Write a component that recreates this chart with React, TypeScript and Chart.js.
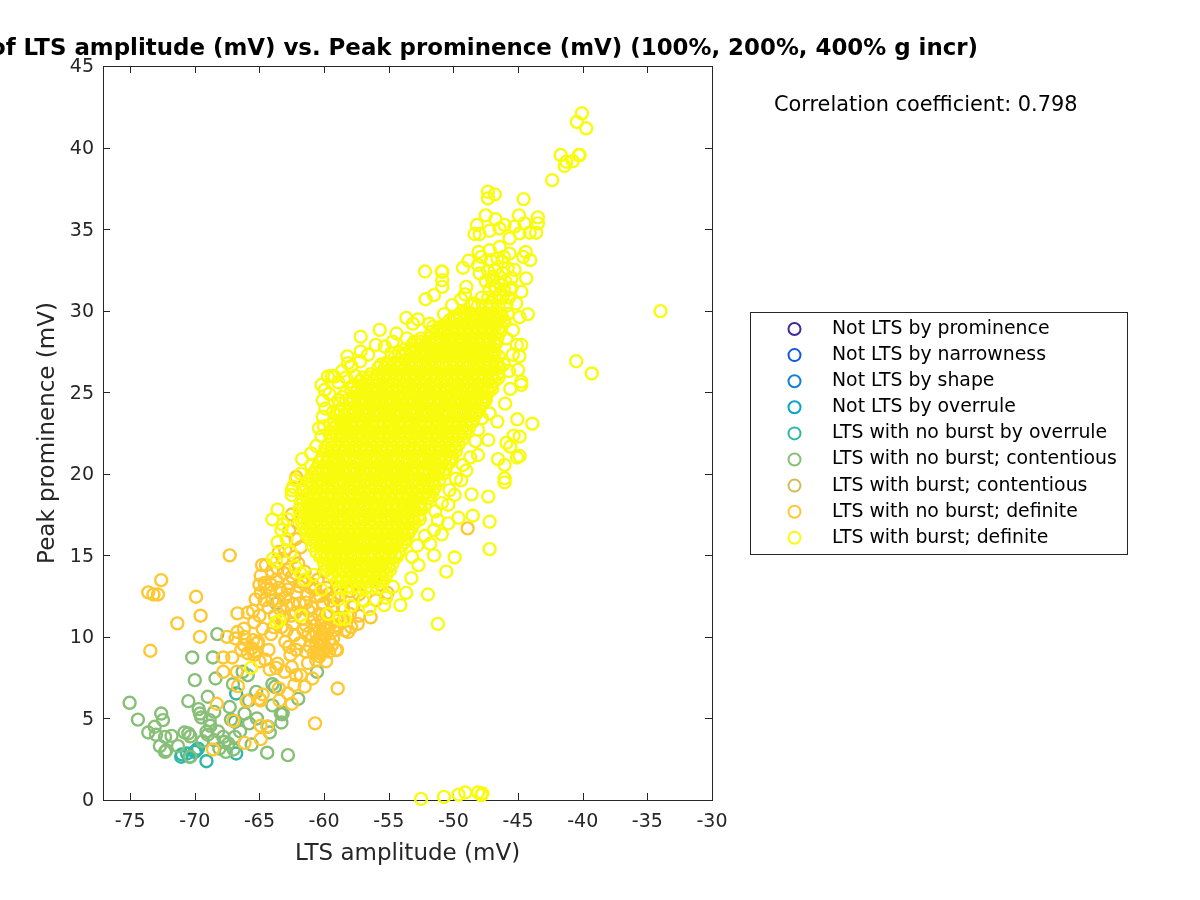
import React, { useEffect, useRef } from "react";
import { Chart, registerables } from "chart.js";

Chart.register(...registerables);

const seriesNames = [
  "Not LTS by prominence",
  "Not LTS by narrowness",
  "Not LTS by shape",
  "Not LTS by overrule",
  "LTS with no burst by overrule",
  "LTS with no burst; contentious",
  "LTS with burst; contentious",
  "LTS with no burst; definite",
  "LTS with burst; definite",
];
const seriesColors = ["#3F2A96", "#0F5CDD", "#1481D6", "#06A4CA", "#2EB7A4", "#87BF77", "#D1BB59", "#FEC832", "#F9FB0E"];

const xTicks = [-75, -70, -65, -60, -55, -50, -45, -40, -35, -30];
const yTicks = [0, 5, 10, 15, 20, 25, 30, 35, 40, 45];

const overruleNoBurst = [
  [-71.05, 2.65], [-70.6, 2.85], [-70, 2.95], [-69.75, 3.15], [-69.1, 2.38], [-66.8, 6.53], [-66.8, 2.85], [-66.9, 4.8],
  [-64.35, 4.5], [-70.4, 2.65], [-71, 2.8], [-69.9, 3.05],
];

const contentiousNoBurst = [
  [-75.04, 5.96], [-74.4, 4.93], [-73.6, 4.14], [-73.1, 4.49], [-72.6, 5.3], [-72.46, 4.9], [-73, 4], [-72.3, 3.87], [-71.8, 3.93],
  [-72.3, 2.95], [-72.2, 3.05], [-70.8, 4.14], [-70.5, 4.08], [-70.35, 3.9], [-70.35, 2.65], [-68.26, 10.17], [-70.2, 8.74],
  [-68.6, 8.74], [-70, 7.35], [-68.4, 7.45], [-70.5, 6.06], [-69, 6.33], [-69.7, 5.57], [-69.6, 5.3], [-69.5, 5.06], [-68.5, 5.4],
  [-67.3, 5.7], [-68.85, 4.9], [-68.8, 4.55], [-69.1, 4.18], [-69, 4], [-68.5, 3.67], [-67.8, 3.87], [-67.7, 3.56], [-67.4, 3.46],
  [-67.6, 2.95], [-68.1, 3.15], [-66.9, 3.87], [-66.3, 7.86], [-65.9, 7.65], [-67.05, 7.1], [-67.2, 4.93], [-66.15, 5.3], [-65.8, 4.7],
  [-65.25, 6.63], [-65.8, 6.1], [-65.6, 3.4], [-64, 7.1], [-63.8, 6.94], [-64, 5.8], [-63.35, 5.3], [-63.25, 5.25], [-63.2, 5.35],
  [-63.3, 4.75], [-64.2, 4.14], [-64.4, 2.9], [-62.8, 2.75], [-62, 6.2], [-60.55, 7.86], [-63.7, 12.05], [-71.3, 3.3], [-72.7, 3.3],
  [-69.4, 3.6], [-68.2, 4.2], [-67, 3.1], [-66.5, 4.2], [-65.2, 5],
];

const definiteNoBurst = [
  [-72.6, 13.48], [-73.6, 12.73], [-73.2, 12.6], [-72.85, 12.6], [-69.9, 12.46], [-69.55, 11.3], [-71.35, 10.83], [-69.6, 10], [-73.44, 9.15],
  [-67.5, 10], [-66.85, 9.9], [-66.7, 10.3], [-66.7, 11.44], [-65.9, 11.48], [-66.15, 10], [-67.3, 15], [-48.9, 16.65],
  [-67.8, 8.74], [-67.1, 8.74], [-67.8, 7.86], [-66.75, 7.86],
  [-66.2, 9.5], [-65.5, 9.8], [-65.2, 9.6], [-66.4, 9.2], [-65.6, 9.3], [-65.3, 9.1], [-65.9, 9], [-65.1, 9.7], [-65.4, 8.9], [-65, 8.5],
  [-64.55, 8.6], [-63.6, 8.35], [-63.7, 8.1], [-64.2, 8], [-63.05, 7.86], [-62.5, 8.15], [-62.15, 7.65], [-61.8, 7.65], [-61.25, 8.4],
  [-60.6, 8.55], [-60.9, 7.45], [-61.5, 6.95], [-62.3, 7.05], [-58.95, 6.84], [-60.7, 4.7], [-66.66, 6.98], [-68.3, 5.9], [-67, 4.85],
  [-68.6, 3.1], [-66.15, 3.5], [-66, 6.08], [-65, 6.2], [-64.75, 6.47], [-64.9, 6.1], [-63.5, 6.84], [-63.45, 6.1], [-62.8, 6.53], [-62.5, 5.9],
  [-64.9, 4.55], [-64.4, 4.5], [-64.9, 3.73],
  [-64.9, 13.75], [-64.5, 14.4], [-62.8, 14.1], [-63.7, 13.5], [-64.6, 13.3], [-64.5, 12.97], [-64.6, 12.25], [-64, 12.25], [-62.7, 13.3],
  [-62.15, 12.7], [-63.3, 12.7], [-62.55, 11.3], [-61.9, 12.05], [-60.9, 13.2], [-60.6, 12.45], [-65, 11.3], [-65.4, 10.9], [-64.75, 10.5],
  [-64.1, 10.17], [-63.3, 10.6], [-62.4, 10.8], [-61.6, 10.4], [-62.7, 9.4], [-61.9, 9.6], [-62.15, 9.2], [-61.1, 9.4], [-60.35, 10.4],
  [-59.85, 10.6], [-59.6, 9.8], [-59.1, 9.2], [-59.3, 9.9], [-60.9, 10], [-60.6, 9.6], [-60.1, 9.2], [-60.35, 8.8], [-59.85, 8.5],
  [-57.9, 10.6], [-58.5, 11], [-58.15, 10.3], [-57.75, 11.85], [-57, 12.25], [-56, 12.25], [-60.2, 11], [-59.85, 11.4], [-60.9, 11.1],
  [-61.4, 10.7], [-59.3, 11.85], [-58.55, 11.85], [-59.6, 12.65],
  [-60.5, 9.2], [-60.3, 9.5], [-60.1, 9.8], [-59.9, 10.1], [-59.7, 10.4], [-60.4, 9.9], [-60.2, 10.2], [-60, 10.5], [-59.8, 9.3], [-59.6, 9.1],
  [-60, 9.5], [-60.3, 9], [-59.4, 9.5], [-59.2, 10.4], [-59.5, 10.8], [-60.6, 10.2], [-60.7, 10.7], [-59, 10.7], [-60.4, 11.4], [-61.2, 11.6],
  [-64.8, 14.4], [-64, 14], [-63.5, 13], [-63, 12.4], [-62.5, 13.7], [-62, 14.5], [-61.8, 15.5], [-63, 15.3], [-63.2, 14.8], [-62.2, 16],
  [-61.5, 14], [-61, 13], [-60.5, 13.5], [-60, 14], [-60.3, 12.5], [-59.5, 12.2], [-59, 11], [-59, 13], [-62.15, 19.8], [-62.7, 16.5],
  [-62.5, 17.5], [-62, 17], [-61.6, 19], [-63.5, 15.2], [-65, 13.2], [-64.2, 12.9], [-63.4, 11.7], [-62.9, 11.9], [-62.2, 11.5],
  [-55.6, 13.2], [-56.4, 11.2], [-55.1, 12.7], [-57.3, 11.3],
  [-63.8, 11.3], [-63.2, 11.2], [-62.9, 10.4], [-62.3, 10.1], [-61.7, 11.1], [-61.2, 10.2], [-61.3, 12.6], [-62.4, 12], [-61.7, 13.4], [-62.3, 14.9],
  [-63.1, 13.9], [-63.6, 14.2], [-64.1, 13.2], [-58.7, 12.6], [-58, 12.8], [-57.3, 12.6], [-59.8, 13], [-58.4, 10.4], [-59, 9.2], [-60.8, 9],
  [-64.3, 9.2], [-63.9, 10.6], [-63, 9.7], [-62.6, 8.9], [-61.4, 9.1], [-60.9, 11.8], [-60.1, 12], [-59.2, 12.4], [-58, 11.4], [-57.4, 10.8],
  [-65.3, 12.3], [-64.9, 12.7], [-64.3, 11.8], [-63.5, 12.2], [-62.8, 12.9], [-61.9, 13.1], [-61.4, 12.1], [-60.7, 12.9], [-65.5, 11.6], [-66.2, 10.5],
];

const definiteBurstOutliers = [
  [-65.65, 8.1], [-63.7, 10.9], [-63.45, 11], [-61.8, 11.3], [-59.7, 11.4], [-58.8, 11.1], [-58.4, 11.1], [-61.8, 13.9], [-63.7, 14.6],
  [-56.5, 11.7], [-55.35, 11.95], [-54.1, 11.95], [-54.67, 13.07], [-50.55, 14], [-51.97, 12.6], [-51.2, 10.8], [-53.65, 12.7], [-52.7, 14.4], [-53.25, 13.6],
  [-52.5, 0.07], [-50.73, 0.19], [-49.6, 0.33], [-49.08, 0.46], [-48.1, 0.46], [-47.76, 0.4], [-47.84, 0.3],
  [-40.06, 42.1], [-40.45, 41.57], [-39.73, 41.18], [-41.7, 39.54], [-40.3, 39.54], [-40.24, 39.54], [-40.76, 39.17], [-41.27, 39.13], [-41.4, 38.87], [-42.36, 38],
  [-33.98, 29.97], [-47.33, 37.29], [-46.8, 37.13], [-47.33, 36.88], [-44.57, 36.84], [-47.5, 35.84], [-44.93, 35.84], [-43.47, 35.72], [-43.47, 35.35], [-43.6, 34.78],
  [-46.74, 35.6], [-48.18, 35.25], [-48.36, 34.7], [-44.5, 35.35], [-45.27, 35.15], [-46.04, 35.25], [-44.1, 34.78], [-47.97, 34.7], [-47.2, 34.9], [-46.43, 35.04],
  [-45.65, 34.43], [-44.88, 34.74], [-44.4, 33.6], [-44.06, 33.1], [-44.6, 33.3], [-48.05, 33.6], [-47.85, 33.3], [-48.83, 33.06], [-49.26, 32.63],
  [-50.86, 32.38], [-50.86, 31.87], [-50.86, 31.46], [-51.5, 30.95], [-52.15, 30.7], [-50.1, 30.34], [-49.4, 30.7], [-50.73, 29.79], [-49, 31.46],
  [-47.97, 32.28], [-48.1, 32.8], [-46.94, 32.08], [-47.2, 33.7], [-46.43, 33.9], [-45.65, 33.5], [-45.27, 32.5], [-44.37, 31.98], [-44.75, 31.16], [-45.14, 30.44],
  [-44.24, 29.79], [-44.88, 29.6], [-45.4, 28.8], [-46.04, 29.3], [-45.9, 28.3], [-53.64, 29.56], [-52.74, 29.46], [-53.13, 29.2], [-51.84, 29.2], [-51.6, 29],
  [-49.78, 29.6], [-49.13, 29.9], [-48.36, 30.44],
  [-43.9, 23.07], [-45.06, 23.34], [-44.88, 22.28], [-45.34, 22.34], [-45.9, 21.9], [-45.6, 21.66], [-44.88, 21.09], [-45.08, 21], [-46.04, 20.54], [-46.55, 20.9],
  [-46.04, 19.72], [-46.04, 19.47], [-48.1, 21.15], [-47.3, 22.07], [-48.6, 18.74], [-47.3, 18.6], [-48.5, 17.43], [-47.2, 17.06], [-47.2, 15.38],
  [-50.4, 16.96], [-51.2, 17.16], [-51.5, 16.55], [-50.9, 16.28], [-51.5, 15], [-49.9, 14.87], [-49.26, 20.54], [-49.8, 19.7], [-50.3, 19],
  [-44.75, 27.9], [-45.1, 27.9], [-44.75, 25.65], [-44.75, 25.45], [-45, 26.37], [-45.4, 27.3], [-44.9, 27.2], [-45.6, 25.2], [-46, 24.3], [-46.6, 23.2], [-47.2, 23.7],
  [-58.15, 26.78], [-57.17, 28.4], [-57.17, 27.5], [-55.7, 28.82], [-60.2, 25.45], [-59.7, 25.96], [-59.2, 25.96], [-59.95, 25.14], [-60.1, 24.5], [-60.1, 23.5],
  [-60.4, 22.8], [-60.2, 22.3], [-61, 21.25], [-61.7, 20.9], [-62.4, 19.2], [-62.5, 18.7], [-63.6, 17.8], [-64, 17.2], [-63.3, 16.55], [-63.6, 15.8], [-63.95, 14.8],
  [-40.5, 26.9], [-39.3, 26.15], [-54.4, 28.6], [-53.6, 28.3], [-54.7, 28.1], [-52.2, 32.4], [-50.9, 32.4], [-49.1, 31], [-58.3, 25.9], [-57.6, 26],
  [-48.4, 27.2], [-47.4, 26.9], [-46.7, 28], [-47.1, 30.5], [-46.4, 30.9], [-45.5, 31.4], [-47.4, 29.4], [-46.2, 33], [-46.8, 31.5],
  [-59.4, 26], [-58.9, 25.6], [-58.6, 26.3], [-57.9, 26.6], [-57.2, 26.9], [-56.6, 27.3], [-56, 27.9], [-55.3, 27.8], [-54.8, 27.4], [-58.2, 27.2],
  [-59.6, 24.9], [-59.9, 24], [-60, 22.9], [-60.6, 21.7], [-61, 20.5], [-61.8, 20], [-62.2, 19.6], [-62.5, 19], [-62.8, 17.2], [-63.2, 16.9], [-62.9, 16],
  [-62.6, 15.2], [-62.2, 14.3], [-61.5, 13.5], [-60.8, 13.8], [-60.2, 12.9], [-58.9, 12.3], [-57.9, 11.9], [-56.9, 12.2], [-55.2, 12.4],
  [-53.2, 14.9], [-52.8, 15.6], [-52.2, 16.2], [-51.8, 15.7], [-51.4, 17.7], [-50.9, 18.2], [-50.4, 18.1], [-49.9, 18.7], [-49.6, 17.3], [-49.4, 19.6],
  [-49, 20.2], [-48.7, 21], [-48.3, 22], [-48.1, 22.7], [-47.8, 23.4], [-47.5, 24.5], [-47, 25.2], [-46.5, 25.9], [-46.1, 26.7], [-45.7, 26.3],
];

const burstCoreY = [13.0, 13.4, 13.8, 14.1, 14.5, 14.9, 15.2, 15.6, 16.0, 16.3, 16.7, 17.0, 17.4, 17.8, 18.1, 18.5, 18.9, 19.2, 19.6, 20.0, 20.3, 20.7, 21.0, 21.4, 21.8, 22.1, 22.5, 22.8, 23.2, 23.6, 23.9, 24.3, 24.7, 25.0, 25.4, 25.7, 26.1, 26.5, 26.8, 27.2, 27.6, 27.9, 28.3, 28.7, 29.0, 29.4, 29.8, 30.3, 30.8, 31.3];
const burstCoreX = [
  [-58.8, -58.3, -57.8, -57.3, -56.8, -56.3, -55.8],
  [-59.0, -58.6, -58.1, -57.5, -57.1, -56.6, -56.0, -55.5],
  [-59.4, -58.8, -58.3, -57.8, -57.3, -56.8, -56.3, -55.7, -55.2],
  [-59.8, -59.1, -58.6, -58.0, -57.5, -57.1, -56.6, -56.0, -55.4, -54.9],
  [-60.0, -59.5, -59.0, -58.4, -57.9, -57.3, -56.9, -56.3, -55.8, -55.2, -54.7],
  [-60.3, -59.8, -59.3, -58.7, -58.2, -57.6, -57.1, -56.6, -56.1, -55.5, -55.0, -54.4],
  [-60.6, -60.0, -59.5, -59.0, -58.5, -58.0, -57.4, -56.9, -56.4, -55.8, -55.3, -54.8, -54.2],
  [-60.9, -60.3, -59.8, -59.3, -58.7, -58.2, -57.7, -57.2, -56.6, -56.1, -55.6, -55.0, -54.5, -54.0],
  [-61.1, -60.6, -60.0, -59.5, -59.0, -58.5, -58.0, -57.4, -56.9, -56.4, -55.9, -55.3, -54.8, -54.3, -53.7],
  [-61.4, -60.9, -60.3, -59.8, -59.3, -58.8, -58.2, -57.7, -57.2, -56.6, -56.1, -55.6, -55.1, -54.5, -54.0, -53.5],
  [-61.6, -61.1, -60.6, -60.0, -59.5, -59.0, -58.5, -58.0, -57.4, -56.9, -56.4, -55.8, -55.3, -54.8, -54.3, -53.8, -53.2],
  [-61.7, -61.3, -60.8, -60.3, -59.8, -59.3, -58.7, -58.2, -57.7, -57.2, -56.6, -56.1, -55.6, -55.1, -54.5, -54.0, -53.5, -53.0],
  [-61.8, -61.2, -60.6, -60.1, -59.6, -59.0, -58.5, -58.0, -57.4, -56.9, -56.4, -55.9, -55.3, -54.8, -54.3, -53.8, -53.2, -52.7],
  [-61.9, -61.4, -60.9, -60.3, -59.8, -59.3, -58.8, -58.2, -57.7, -57.2, -56.6, -56.1, -55.6, -55.1, -54.5, -54.0, -53.5, -53.0, -52.5],
  [-61.8, -61.2, -60.7, -60.1, -59.6, -59.0, -58.5, -58.0, -57.5, -56.9, -56.4, -55.9, -55.3, -54.8, -54.3, -53.8, -53.2, -52.7, -52.2],
  [-61.7, -61.3, -60.8, -60.3, -59.8, -59.3, -58.7, -58.2, -57.7, -57.1, -56.6, -56.1, -55.6, -55.0, -54.5, -54.0, -53.5, -52.9, -52.4, -51.9],
  [-61.6, -61.1, -60.6, -60.1, -59.5, -59.0, -58.5, -57.9, -57.4, -56.9, -56.4, -55.8, -55.3, -54.8, -54.2, -53.7, -53.2, -52.7, -52.1, -51.6],
  [-61.4, -60.9, -60.3, -59.8, -59.3, -58.8, -58.2, -57.7, -57.2, -56.6, -56.1, -55.6, -55.1, -54.5, -54.0, -53.5, -52.9, -52.4, -51.9, -51.4],
  [-61.2, -60.6, -60.1, -59.6, -59.0, -58.5, -58.0, -57.5, -56.9, -56.4, -55.9, -55.3, -54.8, -54.3, -53.8, -53.2, -52.7, -52.2, -51.6, -51.1],
  [-60.9, -60.4, -59.8, -59.3, -58.8, -58.3, -57.7, -57.2, -56.7, -56.1, -55.6, -55.1, -54.5, -54.0, -53.5, -53.0, -52.4, -51.9, -51.4, -50.8],
  [-60.6, -60.1, -59.6, -59.1, -58.5, -58.0, -57.5, -56.9, -56.4, -55.9, -55.4, -54.8, -54.3, -53.8, -53.2, -52.7, -52.2, -51.6, -51.1, -50.6],
  [-60.4, -59.8, -59.3, -58.8, -58.3, -57.7, -57.2, -56.7, -56.1, -55.6, -55.1, -54.6, -54.0, -53.5, -53.0, -52.4, -51.9, -51.4, -50.9, -50.3],
  [-60.1, -59.6, -59.1, -58.5, -58.0, -57.5, -56.9, -56.4, -55.9, -55.4, -54.8, -54.3, -53.8, -53.2, -52.7, -52.2, -51.7, -51.1, -50.6, -50.1],
  [-59.9, -59.3, -58.8, -58.3, -57.7, -57.2, -56.7, -56.2, -55.6, -55.1, -54.6, -54.0, -53.5, -53.0, -52.5, -51.9, -51.4, -50.9, -50.3, -49.8],
  [-59.7, -59.1, -58.6, -58.1, -57.5, -57.0, -56.4, -55.9, -55.4, -54.8, -54.3, -53.8, -53.3, -52.7, -52.2, -51.7, -51.1, -50.6, -50.1, -49.6],
  [-59.4, -58.8, -58.3, -57.8, -57.3, -56.7, -56.2, -55.7, -55.1, -54.6, -54.1, -53.5, -53.0, -52.5, -52.0, -51.4, -50.9, -50.4, -49.8, -49.3],
  [-59.6, -59.1, -58.6, -58.0, -57.5, -57.0, -56.4, -55.9, -55.4, -54.9, -54.3, -53.8, -53.3, -52.7, -52.2, -51.7, -51.2, -50.6, -50.1, -49.6, -49.1],
  [-59.3, -58.8, -58.3, -57.8, -57.2, -56.7, -56.2, -55.6, -55.1, -54.6, -54.0, -53.5, -53.0, -52.5, -51.9, -51.4, -50.9, -50.3, -49.8, -49.3, -48.8],
  [-59.2, -58.6, -58.0, -57.5, -57.0, -56.4, -55.9, -55.4, -54.9, -54.3, -53.8, -53.3, -52.7, -52.2, -51.7, -51.2, -50.6, -50.1, -49.6, -49.0, -48.5],
  [-59.0, -58.4, -57.8, -57.3, -56.7, -56.2, -55.7, -55.1, -54.6, -54.1, -53.6, -53.0, -52.5, -52.0, -51.4, -50.9, -50.4, -49.9, -49.3, -48.8, -48.3],
  [-58.9, -58.1, -57.6, -57.0, -56.5, -56.0, -55.4, -54.9, -54.4, -53.8, -53.3, -52.8, -52.3, -51.7, -51.2, -50.7, -50.1, -49.6, -49.1, -48.6, -48.0],
  [-58.8, -58.0, -57.3, -56.8, -56.2, -55.7, -55.2, -54.7, -54.1, -53.6, -53.1, -52.5, -52.0, -51.5, -51.0, -50.4, -49.9, -49.4, -48.8, -48.3, -47.8],
  [-58.6, -57.8, -57.1, -56.5, -56.0, -55.5, -55.0, -54.4, -53.9, -53.4, -52.8, -52.3, -51.8, -51.2, -50.7, -50.2, -49.7, -49.1, -48.6, -48.1, -47.5],
  [-58.3, -57.5, -56.9, -56.3, -55.8, -55.2, -54.7, -54.2, -53.6, -53.1, -52.6, -52.1, -51.5, -51.0, -50.5, -49.9, -49.4, -48.9, -48.4, -47.8, -47.3],
  [-57.8, -57.1, -56.6, -56.0, -55.5, -55.0, -54.4, -53.9, -53.4, -52.9, -52.3, -51.8, -51.3, -50.7, -50.2, -49.7, -49.2, -48.6, -48.1, -47.6, -47.1],
  [-57.2, -56.7, -56.2, -55.7, -55.2, -54.7, -54.2, -53.6, -53.1, -52.6, -52.1, -51.5, -51.0, -50.5, -49.9, -49.4, -48.9, -48.4, -47.8, -47.3, -46.8],
  [-56.4, -55.9, -55.4, -54.9, -54.4, -53.9, -53.4, -52.9, -52.3, -51.8, -51.3, -50.7, -50.2, -49.7, -49.2, -48.6, -48.1, -47.6, -47.0, -46.6],
  [-55.8, -55.3, -54.8, -54.2, -53.7, -53.2, -52.6, -52.1, -51.6, -51.1, -50.5, -50.0, -49.5, -48.9, -48.4, -47.9, -47.4, -46.9, -46.4],
  [-55.2, -54.6, -54.1, -53.5, -53.0, -52.4, -51.9, -51.4, -50.8, -50.3, -49.8, -49.2, -48.7, -48.2, -47.6, -47.1, -46.6],
  [-54.5, -54.0, -53.4, -52.9, -52.3, -51.8, -51.3, -50.7, -50.2, -49.7, -49.1, -48.6, -48.1, -47.6, -47.0, -46.5],
  [-53.8, -53.3, -52.8, -52.2, -51.7, -51.2, -50.6, -50.1, -49.6, -49.0, -48.5, -48.0, -47.5, -46.9],
  [-53.2, -52.6, -52.1, -51.6, -51.0, -50.5, -50.0, -49.4, -48.9, -48.4, -47.9, -47.3, -46.8],
  [-52.5, -51.9, -51.4, -50.9, -50.3, -49.8, -49.3, -48.7, -48.2, -47.7, -47.2, -46.6],
  [-51.7, -51.2, -50.7, -50.1, -49.6, -49.1, -48.6, -48.0, -47.5, -47.0, -46.4],
  [-51.0, -50.5, -50.0, -49.4, -48.9, -48.4, -47.8, -47.3, -46.8, -46.3],
  [-50.3, -49.8, -49.2, -48.7, -48.2, -47.7, -47.1, -46.6, -46.1],
  [-49.5, -49.0, -48.5, -47.9, -47.4, -46.9, -46.3, -45.8],
  [-48.6, -48.1, -47.5, -47.0, -46.5, -45.9],
  [-47.8, -47.3, -46.8, -46.2, -45.7],
  [-47.2, -46.7, -46.1, -45.6],
];

const burstInnerY = [13.6, 14.3, 15.0, 15.8, 16.5, 17.2, 17.9, 18.7, 19.4, 20.1, 20.9, 21.6, 22.3, 23.0, 23.8, 24.5, 25.2, 25.9, 26.7, 27.4, 28.1, 28.9, 29.6];
const burstInnerX = [
  [-58.6, -58.1, -57.6, -57.0, -56.5, -55.9, -55.5],
  [-59.7, -59.3, -58.8, -58.2, -57.7, -57.2, -56.7, -56.1, -55.6, -55.0],
  [-60.2, -59.7, -59.2, -58.7, -58.2, -57.6, -57.1, -56.6, -56.1, -55.5, -55.0, -54.5],
  [-60.7, -60.2, -59.7, -59.1, -58.6, -58.0, -57.5, -57.0, -56.4, -55.9, -55.4, -54.8, -54.3, -53.8],
  [-61.3, -60.8, -60.3, -59.7, -59.2, -58.7, -58.2, -57.6, -57.1, -56.6, -56.0, -55.5, -55.0, -54.5, -53.9, -53.4],
  [-61.5, -61.0, -60.5, -59.9, -59.4, -58.9, -58.4, -57.8, -57.3, -56.8, -56.2, -55.7, -55.2, -54.7, -54.1, -53.6, -53.1, -52.6],
  [-61.6, -61.1, -60.5, -60.0, -59.5, -59.0, -58.4, -57.9, -57.4, -56.9, -56.3, -55.8, -55.3, -54.7, -54.2, -53.7, -53.1, -52.6],
  [-61.3, -60.8, -60.3, -59.7, -59.2, -58.7, -58.1, -57.6, -57.1, -56.5, -56.0, -55.5, -55.0, -54.4, -53.9, -53.4, -52.8, -52.3, -51.8],
  [-61.0, -60.5, -60.0, -59.4, -58.9, -58.4, -57.8, -57.3, -56.8, -56.3, -55.7, -55.2, -54.7, -54.1, -53.6, -53.1, -52.6, -52.0, -51.5],
  [-60.7, -60.2, -59.7, -59.2, -58.6, -58.1, -57.6, -57.0, -56.5, -56.0, -55.5, -54.9, -54.4, -53.9, -53.3, -52.8, -52.3, -51.8, -51.2, -50.7],
  [-60.2, -59.7, -59.2, -58.6, -58.1, -57.6, -57.1, -56.5, -56.0, -55.5, -54.9, -54.4, -53.9, -53.4, -52.8, -52.3, -51.8, -51.2, -50.7, -50.2],
  [-59.9, -59.4, -58.9, -58.4, -57.8, -57.3, -56.8, -56.3, -55.7, -55.2, -54.7, -54.1, -53.6, -53.1, -52.6, -52.0, -51.5, -51.0, -50.4, -49.9],
  [-59.5, -59.0, -58.5, -57.9, -57.4, -56.9, -56.4, -55.8, -55.3, -54.8, -54.2, -53.7, -53.2, -52.7, -52.1, -51.6, -51.1, -50.5, -50.0, -49.5],
  [-59.5, -59.0, -58.5, -57.9, -57.4, -56.9, -56.3, -55.8, -55.3, -54.8, -54.2, -53.7, -53.2, -52.6, -52.1, -51.6, -51.1, -50.5, -50.0, -49.5, -49.0],
  [-59.3, -58.7, -58.2, -57.7, -57.1, -56.6, -56.1, -55.6, -55.0, -54.5, -54.0, -53.4, -52.9, -52.4, -51.9, -51.3, -50.8, -50.3, -49.7, -49.2, -48.7, -48.2],
  [-58.9, -58.3, -57.8, -57.2, -56.7, -56.1, -55.6, -55.1, -54.6, -54.0, -53.5, -53.0, -52.4, -51.9, -51.4, -50.9, -50.3, -49.8, -49.3, -48.7, -48.2, -47.7],
  [-57.9, -57.4, -56.9, -56.4, -55.9, -55.3, -54.8, -54.3, -53.8, -53.2, -52.7, -52.2, -51.6, -51.1, -50.6, -50.1, -49.5, -49.0, -48.5, -47.9, -47.4],
  [-57.0, -56.5, -55.9, -55.4, -54.9, -54.4, -53.8, -53.3, -52.8, -52.2, -51.7, -51.2, -50.7, -50.1, -49.6, -49.1, -48.5, -48.0, -47.5, -47.0],
  [-55.6, -55.1, -54.6, -54.0, -53.5, -53.0, -52.5, -51.9, -51.4, -50.9, -50.3, -49.8, -49.3, -48.8, -48.2, -47.7, -47.2, -46.7],
  [-54.2, -53.7, -53.2, -52.6, -52.1, -51.6, -51.1, -50.5, -50.0, -49.5, -48.9, -48.4, -47.9, -47.4, -46.8],
  [-53.0, -52.5, -51.9, -51.4, -50.9, -50.4, -49.8, -49.3, -48.8, -48.2, -47.7, -47.2],
  [-51.2, -50.7, -50.2, -49.6, -49.1, -48.6, -48.1, -47.5, -47.0, -46.5],
  [-50.0, -49.5, -49.0, -48.4, -47.9, -47.4, -46.9, -46.3],
];

const upperRidgeX = [-47.5, -47.0, -46.5, -46.0, -45.5, -47.3, -46.8, -46.2, -45.8, -47.1, -46.6, -46.1];
const upperRidgeY = [31.8, 31.9, 31.7, 31.8, 32.0, 32.4, 32.5, 32.3, 32.6, 33.1, 33.2, 33.3];

const toPoints = (pairs: number[][]) => pairs.map(([x, y]) => ({ x, y }));
const corePoints = burstCoreY.flatMap((y, i) => (burstCoreX[i] || []).map((x) => ({ x, y })));
const innerPoints = burstInnerY.flatMap((y, i) => (burstInnerX[i] || []).map((x) => ({ x, y })));
const ridgePoints = upperRidgeX.map((x, i) => ({ x, y: upperRidgeY[i] }));

const seriesData: { x: number; y: number }[][] = [
  [],
  [],
  [],
  [],
  toPoints(overruleNoBurst),
  toPoints(contentiousNoBurst),
  [],
  toPoints(definiteNoBurst),
  [...toPoints(definiteBurstOutliers), ...corePoints, ...innerPoints, ...ridgePoints],
];

const TITLE = "Scatter plot of LTS amplitude (mV) vs. Peak prominence (mV) (100%, 200%, 400% g incr)";
const CORR = "Correlation coefficient: 0.798";
const FONT = '"DejaVu Sans"';

const decorations = {
  id: "decorations",
  beforeDatasetsDraw(chart: any) {
    const { ctx, chartArea: a, scales } = chart;
    ctx.save();
    ctx.strokeStyle = "#262626";
    ctx.lineWidth = 1;
    ctx.strokeRect(a.left + 0.5, a.top + 0.5, a.right - a.left, a.bottom - a.top);
    ctx.beginPath();
    const len = 7;
    scales.x.ticks.forEach((_: any, i: number) => {
      const p = Math.round(scales.x.getPixelForTick(i)) + 0.5;
      ctx.moveTo(p, a.bottom);
      ctx.lineTo(p, a.bottom - len);
      ctx.moveTo(p, a.top);
      ctx.lineTo(p, a.top + len);
    });
    scales.y.ticks.forEach((_: any, i: number) => {
      const p = Math.round(scales.y.getPixelForTick(i)) + 0.5;
      ctx.moveTo(a.left, p);
      ctx.lineTo(a.left + len, p);
      ctx.moveTo(a.right, p);
      ctx.lineTo(a.right - len, p);
    });
    ctx.stroke();
    ctx.restore();
  },
  afterDraw(chart: any) {
    const { ctx, chartArea: a } = chart;
    ctx.save();
    ctx.fillStyle = "#000";
    ctx.textBaseline = "middle";
    ctx.textAlign = "right";
    ctx.font = `bold 22.9px ${FONT}`;
    ctx.fillText(TITLE, a.right + 266, 49);
    ctx.textAlign = "left";
    ctx.font = `20.85px ${FONT}`;
    ctx.fillText(CORR, a.right + 62, 106);

    const bx = 750.5, by = 312.5, bw = 377, bh = 242;
    ctx.fillStyle = "#fff";
    ctx.fillRect(bx, by, bw, bh);
    ctx.strokeStyle = "#262626";
    ctx.lineWidth = 1;
    ctx.strokeRect(bx, by, bw, bh);
    ctx.font = `18.87px ${FONT}`;
    seriesNames.forEach((name, i) => {
      const y = by + 16.5 + i * 26.1;
      ctx.beginPath();
      ctx.arc(794.5, y, 6, 0, Math.PI * 2);
      ctx.lineWidth = 2;
      ctx.strokeStyle = seriesColors[i];
      ctx.stroke();
      ctx.fillStyle = "#000";
      ctx.fillText(name, 832, y);
    });
    ctx.restore();
  },
};

export default function App() {
  const ref = useRef<HTMLCanvasElement>(null);
  useEffect(() => {
    document.body.style.margin = "0";
    const chart = new Chart(ref.current!, {
      type: "scatter",
      data: {
        datasets: seriesNames.map((label, i) => ({
          label,
          data: seriesData[i],
          order: 8 - i,
          clip: false as any,
          showLine: false,
          pointStyle: "circle",
          pointRadius: 6,
          pointBorderWidth: 2.4,
          pointBorderColor: seriesColors[i],
          pointBackgroundColor: "rgba(0,0,0,0)",
        })),
      },
      options: {
        responsive: false,
        animation: false,
        layout: { padding: { top: 66, right: 488, left: 0, bottom: 0 } },
        plugins: { legend: { display: false }, title: { display: false }, tooltip: { enabled: false } },
        scales: {
          x: {
            type: "linear",
            min: -77.1,
            max: -30,
            afterBuildTicks: (s: any) => { s.ticks = xTicks.map((value) => ({ value })); },
            afterFit: (s: any) => { s.height = 100; },
            grid: { display: false, drawTicks: false },
            border: { display: false },
            ticks: { color: "#262626", font: { family: FONT, size: 19 }, padding: 11, maxRotation: 0, callback: (v: any) => `${v}` },
            title: { display: true, text: "LTS amplitude (mV)", color: "#262626", font: { family: FONT, size: 23 }, padding: { top: 32, bottom: 32 } },
          },
          y: {
            type: "linear",
            min: 0,
            max: 45,
            afterBuildTicks: (s: any) => { s.ticks = yTicks.map((value) => ({ value })); },
            afterFit: (s: any) => { s.width = 103; },
            grid: { display: false, drawTicks: false },
            border: { display: false },
            ticks: { color: "#262626", font: { family: FONT, size: 19 }, padding: 9, labelOffset: 1.5, callback: (v: any) => `${v}` },
            title: { display: true, text: "Peak prominence (mV)", color: "#262626", font: { family: FONT, size: 23 }, padding: { top: 34, bottom: 34 } },
          },
        },
      },
      plugins: [decorations],
    });
    return () => chart.destroy();
  }, []);
  return (
    <div style={{ position: "absolute", left: 0, top: 0, width: 1200, height: 900 }}>
      <canvas ref={ref} width={1200} height={900} style={{ display: "block" }} />
    </div>
  );
}
